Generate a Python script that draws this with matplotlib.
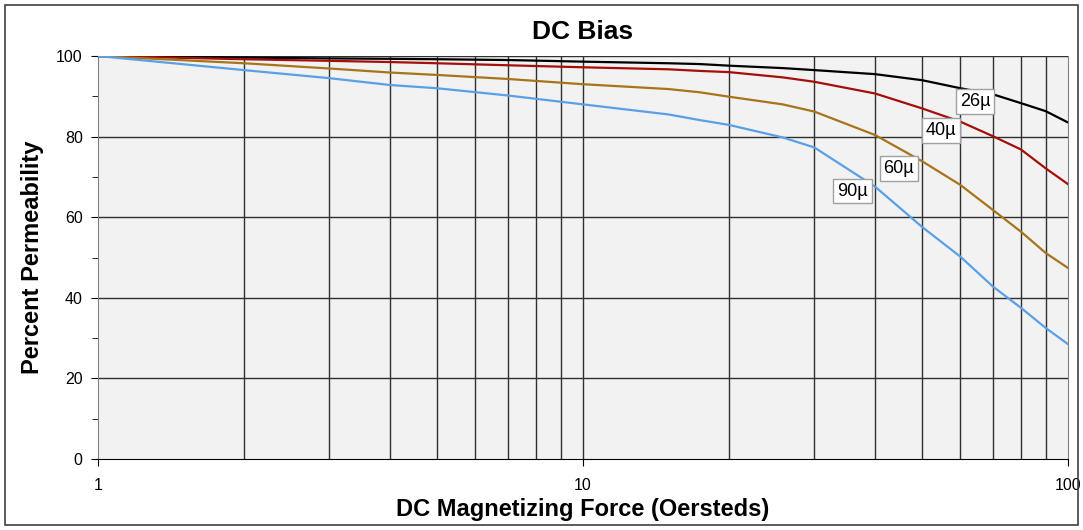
import numpy as np
import matplotlib.pyplot as plt
from matplotlib.ticker import FixedLocator, NullFormatter, FixedFormatter
from matplotlib.patches import Rectangle

plt.rcParams['font.family'] = ['Liberation Sans', 'DejaVu Sans']

# DC magnetizing force (Oersteds)
force = [1, 2, 3, 4, 5, 7, 10, 15, 17.4, 20, 25.8, 30, 40, 50, 60, 70, 80, 90, 100]

# percent permeability per material
perm_26 = [100, 99.6, 99.4, 99.3, 99.2, 99.0, 98.6, 98.2, 98.0, 97.6, 97.0, 96.5, 95.5, 94.0, 92.0, 90.5, 88.3, 86.3, 83.5]
perm_40 = [100, 99.2, 98.8, 98.5, 98.2, 97.7, 97.2, 96.7, 96.3, 96.0, 94.7, 93.6, 90.7, 87.0, 83.7, 80.1, 76.8, 72.1, 68.2]
perm_60 = [100, 98.2, 96.9, 95.9, 95.3, 94.3, 93.0, 91.8, 91.0, 89.9, 88.0, 86.2, 80.4, 73.9, 68.0, 61.8, 56.4, 51.1, 47.4]
perm_90 = [100, 96.5, 94.5, 92.8, 92.0, 90.2, 88.0, 85.5, 84.1, 82.9, 79.8, 77.3, 67.6, 57.6, 50.2, 42.8, 37.5, 32.5, 28.5]

labels = ['26µ', '40µ', '60µ', '90µ']
colors = ['#000000', '#a50f0a', '#a8741a', '#5aa0e6']
label_pos = [(64.3, 88.6), (54.7, 81.4), (44.8, 72.2), (35.9, 66.5)]

fig = plt.figure(figsize=(10.83, 5.30), dpi=100)
ax = fig.add_axes([98 / 1083, 71 / 530, 970 / 1083, 403 / 530])
ax.set_facecolor('#f2f2f2')

# frame around the whole chart
fig.patches.append(Rectangle((5 / 1083, 5 / 530), 1073 / 1083, 520 / 530,
                             transform=fig.transFigure, fill=False,
                             edgecolor='#404040', lw=1.2))

ax.set_xscale('log')
ax.set_xlim(1, 100)
ax.set_ylim(0, 100)

# gridlines
for v in list(range(2, 10)) + [10] + list(range(20, 100, 10)):
    ax.axvline(v, color='#303030', lw=1, zorder=1)
for v in range(20, 101, 20):
    ax.axhline(v, color='#303030', lw=1, zorder=1)

series = [perm_26, perm_40, perm_60, perm_90]
for vals, c in zip(series, colors):
    ax.plot(force, vals, color=c, lw=1.6, zorder=3)

for lab, (lx, ly) in zip(labels, label_pos):
    ax.text(lx, ly, lab, ha='center', va='center', fontsize=13, zorder=5,
            bbox=dict(boxstyle='square,pad=0.22', fc='white', ec='#a0a0a0', lw=1))

ax.xaxis.set_major_locator(FixedLocator([1, 10, 100]))
ax.xaxis.set_major_formatter(FixedFormatter(['1', '10', '100']))
ax.xaxis.set_minor_locator(FixedLocator([]))
ax.xaxis.set_minor_formatter(NullFormatter())
ax.set_yticks(range(0, 101, 20))
ax.set_yticks(range(10, 100, 20), minor=True)
ax.tick_params(axis='both', which='major', labelsize=11.5, length=5, direction='out', pad=9)
ax.tick_params(axis='y', which='major', pad=6)
ax.tick_params(axis='y', which='minor', length=4)

for s in ['left', 'right']:
    ax.spines[s].set_color('#808080')
ax.spines['top'].set_visible(False)
ax.spines['bottom'].set_color('black')

ax.set_title('DC Bias', fontsize=19, fontweight='bold', pad=12)
ax.set_xlabel('DC Magnetizing Force (Oersteds)', fontsize=17, fontweight='bold', labelpad=3)
ax.set_ylabel('Percent Permeability', fontsize=17, fontweight='bold', labelpad=9)

fig.savefig('out.png', dpi=100)
